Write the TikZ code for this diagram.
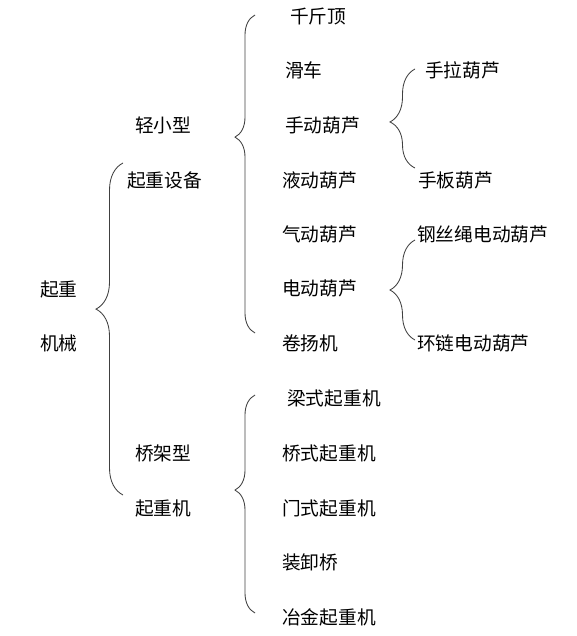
\documentclass[tikz,border=0pt]{standalone}
\usepackage{fontspec}
\newfontfamily\cjk{Noto Sans CJK SC}
\usetikzlibrary{decorations.pathreplacing}

\begin{document}
\begin{tikzpicture}[x=1pt,y=-1pt,
  item/.style={anchor=west,inner sep=0pt,font=\cjk\fontsize{18.7}{21}\selectfont},
  llave/.style={draw=black!75,line width=0.85pt,decorate,decoration={brace,amplitude=#1}}]
  \useasboundingbox (0,0) rectangle (577,636);

  % Primer nivel
  \node[item] (qz) at (40,289) {起重};
  \node[item] (jx) at (40,343) {机械};

  % Segundo nivel
  \node[item] (qxx) at (135,125) {轻小型};
  \node[item] (qzsb) at (127,180) {起重设备};
  \node[item] (qjx) at (135,453) {桥架型};
  \node[item] (qzj) at (135,508) {起重机};

  % Tercer nivel
  \foreach \n/\x/\y/\t in {a/290/17/千斤顶, b/285/70/滑车, c/285/125/手动葫芦,
      d/282/180/液动葫芦, e/282/234/气动葫芦, f/282/288/电动葫芦, g/282/343/卷扬机,
      h/287/398/梁式起重机, i/282/453/桥式起重机, j/282/508/门式起重机,
      k/282/562/装卸桥, l/282/617/冶金起重机} {
    \node[item] (\n) at (\x,\y) {\t};
  }

  % Cuarto nivel
  \node[item] (sl) at (425,70) {手拉葫芦};
  \node[item] (sb) at (418,180) {手板葫芦};
  \node[item] (gs) at (417,234) {钢丝绳电动葫芦};
  \node[item] (hl) at (417,343) {环链电动葫芦};

  % Llaves
  \coordinate (l1a) at (123,495); \coordinate (l1b) at (123,163);
  \coordinate (l2a) at (255,333); \coordinate (l2b) at (255,15);
  \coordinate (l3a) at (415,168); \coordinate (l3b) at (415,69);
  \coordinate (l4a) at (415,340); \coordinate (l4b) at (415,240);
  \coordinate (l5a) at (255,613); \coordinate (l5b) at (255,395);

  \draw[llave=27pt,decoration={aspect=0.56}] (l1a) -- (l1b);
  \draw[llave=20pt,decoration={aspect=0.616}] (l2a) -- (l2b);
  \draw[llave=25pt,decoration={aspect=0.465}] (l3a) -- (l3b);
  \draw[llave=25pt,decoration={aspect=0.5}] (l4a) -- (l4b);
  \draw[llave=20pt,decoration={aspect=0.564}] (l5a) -- (l5b);
\end{tikzpicture}
\end{document}
